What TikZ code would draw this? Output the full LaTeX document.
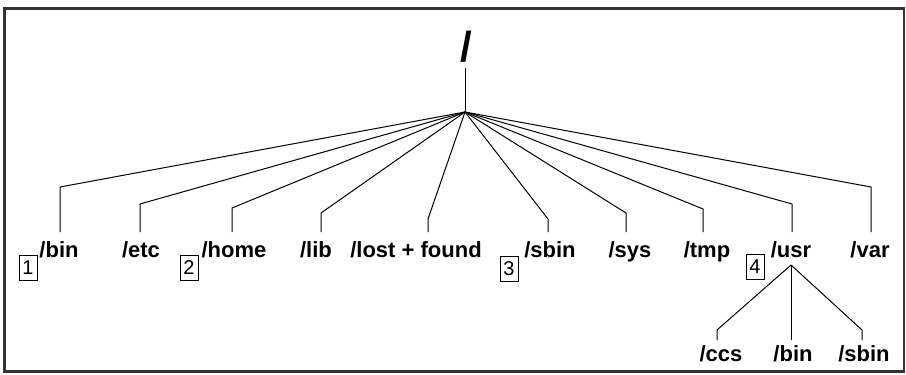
\documentclass[tikz,border=0pt]{standalone}
\usepackage{fontspec}
\setmainfont{Liberation Sans}
\begin{document}
\begin{tikzpicture}[x=1pt,y=-1pt,
  conn/.style={line width=1pt,black},
  dirlabel/.style={font=\bfseries\fontsize{22}{26}\selectfont,anchor=base,inner sep=0pt},
  numbox/.style={draw,line width=0.8pt,font=\fontsize{20}{22}\selectfont,minimum width=18pt,minimum height=25pt,inner sep=0pt}]
\useasboundingbox (0,0) rectangle (906,375);
\draw[line width=2.6pt,black!80] (4.5,8.5) rectangle (904,371.5);
% root
\node[inner sep=0pt,font=\bfseries\fontsize{42}{46}\selectfont] (root) at (466,47) {/};
\coordinate (rtop) at (465,68);
\coordinate (hub) at (465,112);
\draw[conn] (rtop) -- (hub);
% children: name, line x, knee y, label x
\foreach \n/\x/\k/\lx/\t in {bin/60/187/59/{/bin},etc/140/204/141/{/etc},home/232/208/234/{/home},lib/321/213/316/{/lib},lost/428/219/416/{/lost + found},sbin/548/219/550/{/sbin},sys/626/213/630/{/sys},tmp/703/209/707/{/tmp},usr/792/204/791/{/usr},var/871/187/870/{/var}}{
  \coordinate (k\n) at (\x,\k);
  \coordinate (e\n) at (\x,232);
  \node[dirlabel] (l\n) at (\lx,257) {\t};
  \draw[conn] (hub) -- (k\n) -- (e\n);
}
% number boxes
\node[numbox] (b1) at (28,268) {1};
\node[numbox] (b2) at (189,268) {2};
\node[numbox] (b3) at (509,269) {3};
\node[numbox] (b4) at (755,267) {4};
% /usr subtree
\coordinate (uhub) at (791,265);
\coordinate (kccs) at (717,330);
\coordinate (eccs) at (717,340);
\coordinate (ebin) at (791,340);
\coordinate (ksbin) at (862,330);
\coordinate (esbin) at (862,340);
\draw[conn] (uhub) -- (kccs) -- (eccs);
\draw[conn] (uhub) -- (ebin);
\draw[conn] (uhub) -- (ksbin) -- (esbin);
\node[dirlabel] (lccs) at (721,361) {/ccs};
\node[dirlabel] (lubin) at (793,361) {/bin};
\node[dirlabel] (lusbin) at (864,361) {/sbin};
\end{tikzpicture}
\end{document}
